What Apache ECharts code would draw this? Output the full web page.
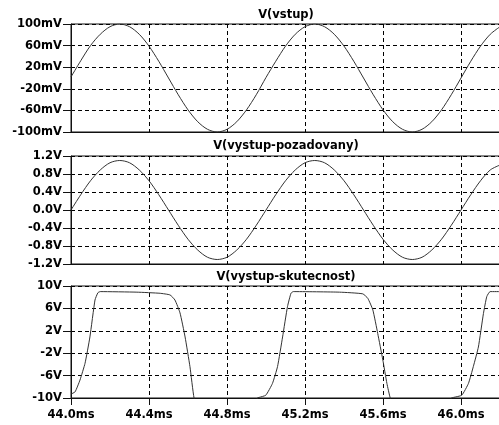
<!DOCTYPE html>
<html><head><meta charset="utf-8">
<script src="https://cdn.jsdelivr.net/npm/echarts@6/dist/echarts.min.js"></script>
<style>html,body{margin:0;padding:0;background:#fff}#c{width:499px;height:425px}</style>
</head><body><div id="c"></div>
<script>
const titles = ['V(vstup)', 'V(vystup-pozadovany)', 'V(vystup-skutecnost)'];

const timeMs = [44.00,44.05,44.10,44.15,44.20,44.25,44.30,44.35,44.40,44.45,
  44.50,44.55,44.60,44.65,44.70,44.75,44.80,44.85,44.90,44.95,
  45.00,45.05,45.10,45.15,45.20,45.25,45.30,45.35,45.40,45.45,
  45.50,45.55,45.60,45.65,45.70,45.75,45.80,45.85,45.90,45.95,
  46.00,46.05,46.10,46.15,46.20];

const vstup_mV = [2,32,60,81,95,100,95,81,59,31,
  0,-31,-59,-81,-95,-100,-95,-81,-59,-31,
  1,31,59,81,95,100,95,81,59,31,
  0,-31,-59,-81,-95,-100,-95,-81,-59,-31,
  0,31,59,81,95];

const pozadovany_V = [0,0.34,0.65,0.89,1.05,1.10,1.05,0.89,0.65,0.34,
  0,-0.34,-0.65,-0.89,-1.05,-1.10,-1.05,-0.89,-0.65,-0.34,
  0,0.34,0.65,0.89,1.05,1.10,1.05,0.89,0.65,0.34,
  0,-0.34,-0.65,-0.89,-1.05,-1.10,-1.05,-0.89,-0.65,-0.34,
  0,0.34,0.65,0.89,1.00];

const skutecnostTime = [44.000,44.021,44.046,44.072,44.097,44.123,44.138,44.150,44.338,44.456,
  44.508,44.533,44.559,44.585,44.610,44.631,44.66,44.80,44.94,44.955,
  44.964,44.999,45.033,45.059,45.085,45.110,45.128,45.140,45.377,45.496,
  45.522,45.548,45.573,45.599,45.620,45.637,45.67,45.80,45.93,45.950,
  45.961,46.004,46.038,46.063,46.089,46.115,46.132,46.149,46.21];
const skutecnost_V = [-9.3,-8.9,-6.8,-3.8,0.9,7.5,8.8,9.0,8.9,8.7,
  8.4,7.5,5.2,0.9,-4.4,-10,-13,-14,-12,-10.0,
  -9.9,-9.5,-7.4,-4.4,0.9,6.3,8.7,9.0,8.9,8.6,
  7.8,5.7,1.5,-3.2,-7.4,-10,-13,-14,-12,-10.0,
  -9.9,-9.5,-7.4,-4.4,-0.9,5.1,8.1,9.0,9.0];

const xRange = [44.0, 46.205];
const xStep = 0.4;
const yRanges = [[-100, 100, 40], [-1.2, 1.2, 0.4], [-10, 10, 4]];
const yUnits = ['mV', 'V', 'V'];

const FONT = 'DejaVu Sans';
const FS = 11.5;
const INK = '#111';
const grids = [
  {left: 71, right: -2, top: 24, height: 108},
  {left: 71, right: -2, top: 156, height: 108},
  {left: 71, right: -2, top: 286, height: 112}
];
const titleY = [15.5, 146, 277];

const chart = echarts.init(document.getElementById('c'), null, {renderer: 'canvas'});

const xAxes = grids.map((g, i) => ({
  type: 'value', gridIndex: i, min: xRange[0], max: xRange[1], interval: xStep,
  axisLine: {show: true, onZero: false, lineStyle: {color: INK, width: 1}},
  axisTick: {show: i === 2, length: 7, inside: false, lineStyle: {color: INK}},
  axisLabel: {show: i === 2, margin: 11, color: '#000', fontFamily: FONT, fontWeight: 'bold', fontSize: FS,
    showMaxLabel: false, formatter: v => v.toFixed(1) + 'ms'},
  splitLine: {show: true, lineStyle: {color: '#000', type: [4, 3], width: 1}}
}));

const yAxes = grids.map((g, i) => ({
  type: 'value', gridIndex: i, min: yRanges[i][0], max: yRanges[i][1], interval: yRanges[i][2],
  axisLine: {show: true, onZero: false, lineStyle: {color: INK, width: 1}},
  axisTick: {show: true, length: 8, lineStyle: {color: INK}},
  axisLabel: {margin: 9, color: '#000', fontFamily: FONT, fontWeight: 'bold', fontSize: FS,
    showMinLabel: true, showMaxLabel: true,
    formatter: v => (i === 1 ? v.toFixed(1) : String(Math.round(v))) + yUnits[i]},
  splitLine: {show: true, lineStyle: {color: '#000', type: [4, 3], width: 1}}
}));

const lineStyle = {color: '#333', width: 1};
const series = [
  {type: 'line', xAxisIndex: 0, yAxisIndex: 0, showSymbol: false, smooth: 0.3, clip: true,
    lineStyle, data: timeMs.map((t, k) => [t, vstup_mV[k]])},
  {type: 'line', xAxisIndex: 1, yAxisIndex: 1, showSymbol: false, smooth: 0.3, clip: true,
    lineStyle, data: timeMs.map((t, k) => [t, pozadovany_V[k]])},
  {type: 'line', xAxisIndex: 2, yAxisIndex: 2, showSymbol: false, smooth: 0.15, clip: true,
    lineStyle, data: skutecnostTime.map((t, k) => [t, skutecnost_V[k]])}
];

chart.setOption({
  animation: false,
  backgroundColor: '#fff',
  grid: grids.map(g => Object.assign({show: true, borderColor: INK, borderWidth: 1,
    backgroundColor: 'transparent', containLabel: false, outerBoundsMode: 'none'}, g)),
  xAxis: xAxes,
  yAxis: yAxes,
  series,
  graphic: titles.map((t, i) => ({
    type: 'text', x: 286, y: titleY[i],
    style: {text: t, align: 'center', verticalAlign: 'middle', fill: '#000',
      font: 'bold ' + FS + 'px "' + FONT + '"'}
  }))
});
</script></body></html>
